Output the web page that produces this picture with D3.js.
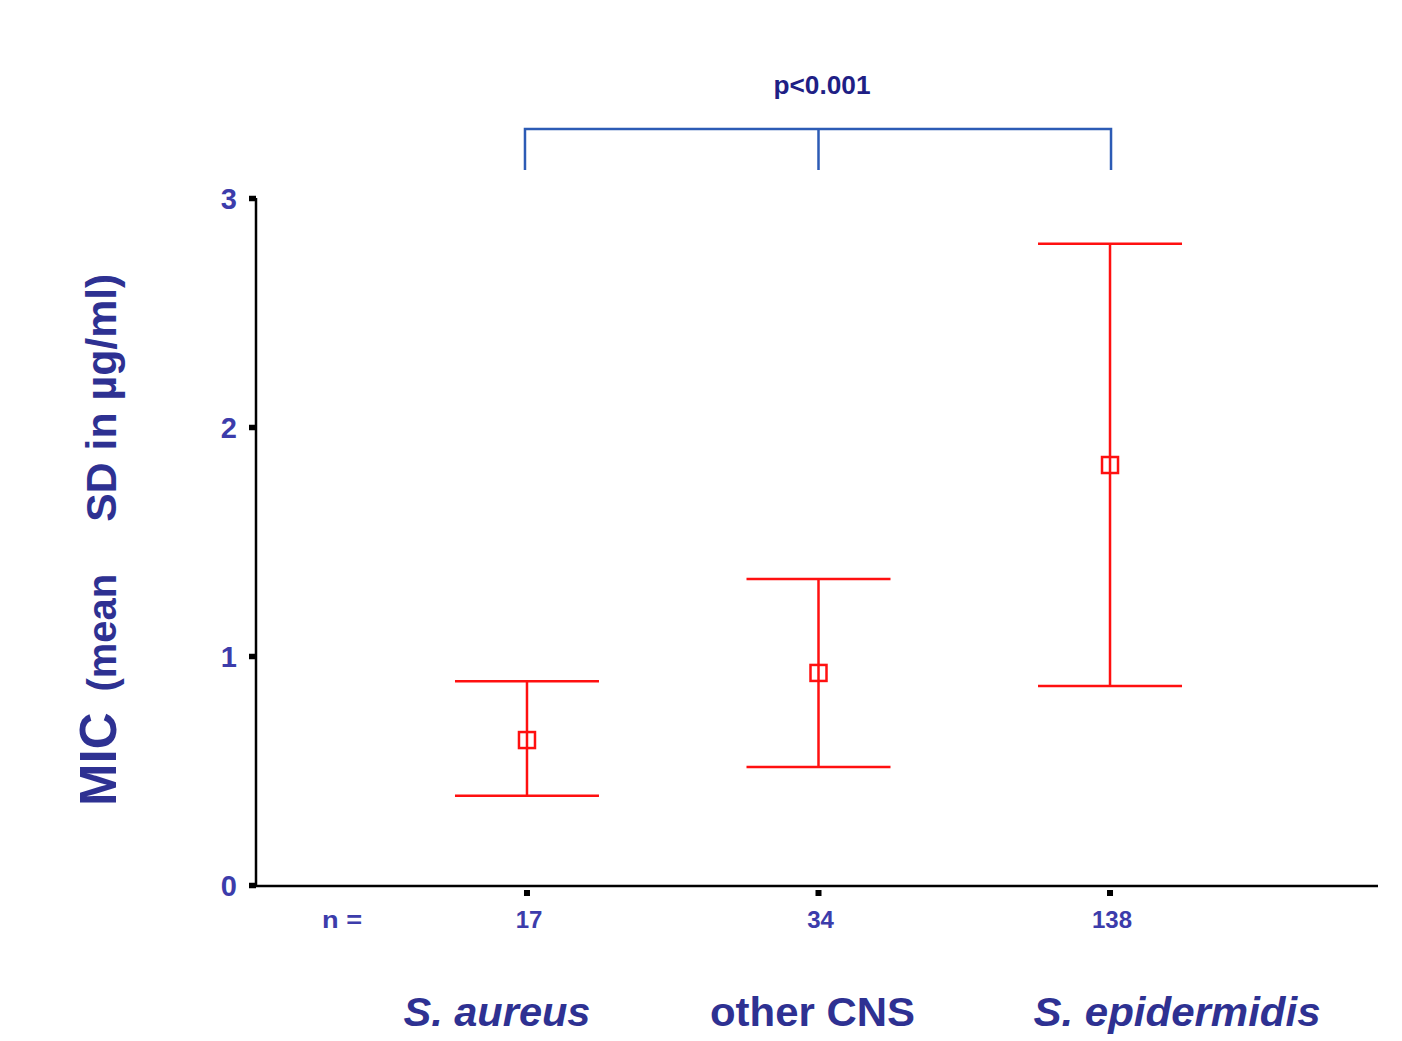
<!DOCTYPE html>
<html><head><meta charset="utf-8">
<script src="https://cdn.jsdelivr.net/npm/d3@7/dist/d3.min.js"></script>
<style>body{margin:0;background:#fff}svg{display:block}text{font-family:"Liberation Sans",Arial,sans-serif;font-weight:bold}</style>
</head><body>
<script>
const categories = ["S. aureus", "other CNS", "S. epidermidis"];
const italicCat = [true, false, true];
const counts = ["17", "34", "138"];
const means = [0.633, 0.926, 1.834];
const upper = [0.89, 1.336, 2.80];
const lower = [0.39, 0.515, 0.869];
const yTicks = [0, 1, 2, 3];
const pLabel = "p<0.001";

const W = 1402, H = 1041;
const svg = d3.select("body").append("svg").attr("width", W).attr("height", H);
const textCol = "#2e3192";

const x = d3.scalePoint().domain(categories).range([255, 1382]).padding(0.933);
const y = d3.scaleLinear().domain([0, 3]).range([885, 198]);

// axes
const yAxis = svg.append("g").attr("transform", "translate(256,0)")
  .call(d3.axisLeft(y).tickValues(yTicks).tickSize(7).tickPadding(12).tickFormat(d3.format("d")));
yAxis.select(".domain").attr("stroke", "#000").attr("stroke-width", 2.5).attr("d", `M0,${y(3)}V${y(0)+1}`);
yAxis.selectAll(".tick line").attr("stroke", "#000").attr("stroke-width", 5.5);
yAxis.selectAll(".tick text").attr("fill", "#3c3cab").style("font-size", "29px").attr("dy", "0.35em").attr("font-family", "Liberation Sans, Arial, sans-serif").attr("font-weight", "bold");

const xAxis = svg.append("g").attr("transform", "translate(0,886)")
  .call(d3.axisBottom(x).tickSize(0).tickFormat(""));
xAxis.select(".domain").attr("stroke", "#000").attr("stroke-width", 2.5).attr("d", "M255,0H1378");

// x tick squares
svg.selectAll(".xt").data(categories).enter().append("rect")
  .attr("x", d => x(d) - 3).attr("y", 890).attr("width", 6).attr("height", 6).attr("fill", "#000");

// n labels
svg.append("text").attr("x", 342).attr("y", 928).attr("text-anchor", "middle")
  .attr("fill", "#3c3cab").style("font-size", "24px").attr("textLength", 40).attr("lengthAdjust", "spacingAndGlyphs").text("n =");
svg.selectAll(".cnt").data(counts).enter().append("text")
  .attr("x", (d, i) => x(categories[i]) + 2).attr("y", 928).attr("text-anchor", "middle")
  .attr("fill", "#3c3cab").style("font-size", "24px").text(d => d);

// category labels
const catShift = [-30, -6, 67];
svg.selectAll(".cat").data(categories).enter().append("text")
  .attr("x", (d, i) => x(d) + catShift[i]).attr("y", 1026).attr("text-anchor", "middle")
  .attr("fill", textCol).style("font-size", "40px").style("font-weight", "bold")
  .style("font-style", (d, i) => italicCat[i] ? "italic" : "normal")
  .attr("textLength", (d, i) => [187, 205, 287][i]).attr("lengthAdjust", "spacingAndGlyphs")
  .text(d => d);

// error bars
const red = "#ff1010";
const g = svg.append("g").attr("stroke", red).attr("stroke-width", 2.5).attr("fill", "none");
categories.forEach((c, i) => {
  const cx = x(c);
  g.append("line").attr("x1", cx).attr("x2", cx).attr("y1", y(upper[i])).attr("y2", y(lower[i]));
  g.append("line").attr("x1", cx - 72).attr("x2", cx + 72).attr("y1", y(upper[i])).attr("y2", y(upper[i]));
  g.append("line").attr("x1", cx - 72).attr("x2", cx + 72).attr("y1", y(lower[i])).attr("y2", y(lower[i]));
  g.append("rect").attr("x", cx - 8).attr("y", y(means[i]) - 8).attr("width", 16).attr("height", 16);
});

// significance bracket
const bl = "#2c5bb5";
const bx0 = x(categories[0]) - 2, bx1 = x(categories[2]) + 1, bxm = x(categories[1]);
svg.append("path").attr("d", `M${bx0},170V129H${bx1}V170M${bxm},129V170`)
  .attr("stroke", bl).attr("stroke-width", 2.5).attr("fill", "none");
svg.append("text").attr("x", 822).attr("y", 94).attr("text-anchor", "middle")
  .attr("fill", "#1f1f85").style("font-size", "26px").attr("textLength", 97).attr("lengthAdjust", "spacingAndGlyphs").text(pLabel);

// y label
const yl = svg.append("text").attr("transform", "translate(116,806) rotate(-90)")
  .attr("fill", textCol);
yl.append("tspan").style("font-size", "51px").text("MIC");
yl.append("tspan").style("font-size", "40px").attr("dx", 21).text("(mean");
yl.append("tspan").style("font-size", "42px").attr("dx", 52).attr("textLength", 248).attr("lengthAdjust", "spacingAndGlyphs").text("SD in µg/ml)");
</script>
</body></html>
